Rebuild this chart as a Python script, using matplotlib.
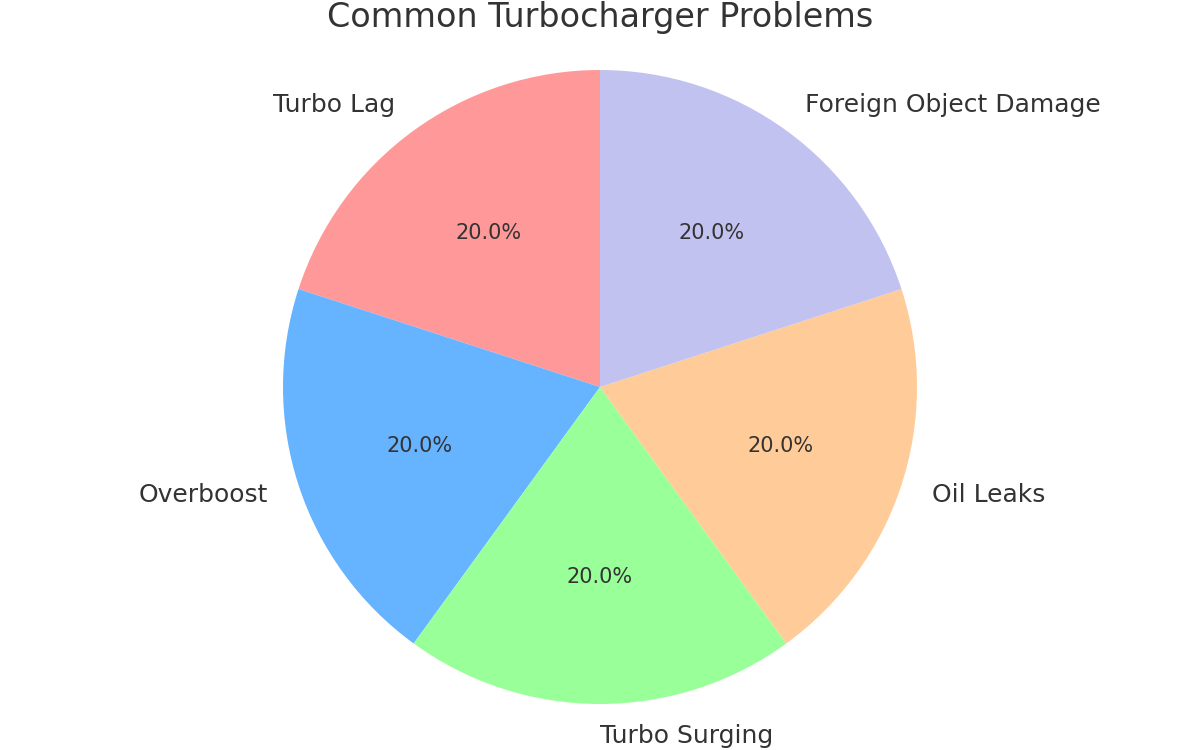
import matplotlib
matplotlib.use("Agg")
import matplotlib.pyplot as plt

labels = ["Turbo Lag", "Overboost", "Turbo Surging", "Oil Leaks", "Foreign Object Damage"]
sizes = [20, 20, 20, 20, 20]
colors = ["#ff9999", "#66b3ff", "#99ff99", "#ffcc99", "#c2c2f0"]
title = "Common Turbocharger Problems"

fig = plt.figure(figsize=(8, 5), dpi=150)
# pie centre ~ (600, 387) px, radius ~317 px in a 1200x750 canvas
R = 317
cx, cy = 600, 387
ax = fig.add_axes([(cx - R) / 1200, (750 - cy - R) / 750, 2 * R / 1200, 2 * R / 750])
wedges, texts, autotexts = ax.pie(sizes, labels=labels, colors=colors, autopct="%1.1f%%",
                                  startangle=90, textprops={"color": "#333333", "fontsize": 12})
for t in autotexts:
    t.set_fontsize(10)
    t.set_color("#333333")
ax.set_xlim(-1, 1)
ax.set_ylim(-1, 1)
ax.set_aspect("auto")
ax.axis("off")
fig.text(0.5, 1 - 18 / 750, title, ha="center", va="center", fontsize=16, color="#333333")
fig.savefig("out.png", dpi=150)
